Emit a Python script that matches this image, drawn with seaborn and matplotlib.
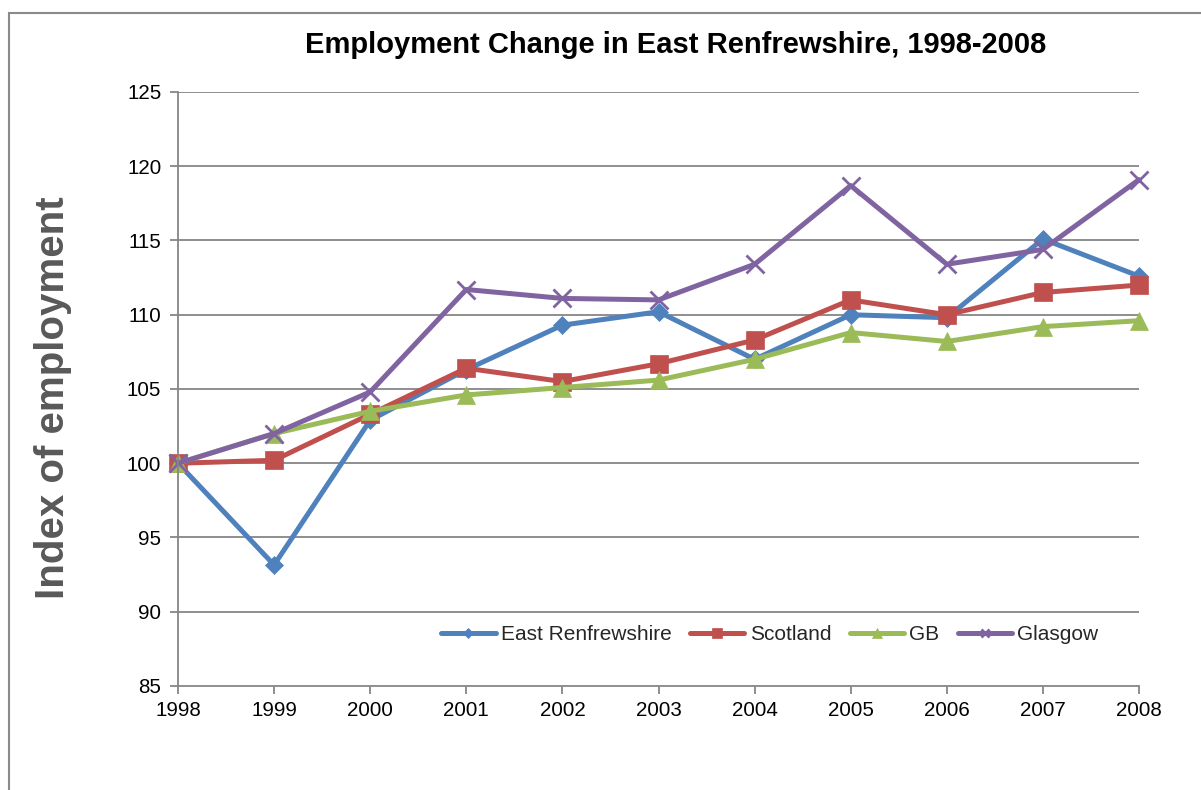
import matplotlib
matplotlib.use("Agg")
import matplotlib.pyplot as plt
import matplotlib.patches as mpatches
import seaborn as sns
import pandas as pd

years = [1998, 1999, 2000, 2001, 2002, 2003, 2004, 2005, 2006, 2007, 2008]
east_renfrewshire = [100.0, 93.15, 102.9, 106.3, 109.3, 110.2, 107.0, 110.0, 109.8, 115.1, 112.6]
scotland = [100.0, 100.2, 103.3, 106.4, 105.5, 106.7, 108.3, 111.0, 110.0, 111.5, 112.0]
gb = [100.0, 102.0, 103.5, 104.6, 105.1, 105.6, 107.0, 108.8, 108.2, 109.2, 109.6]
glasgow = [100.0, 102.0, 104.8, 111.7, 111.1, 111.0, 113.4, 118.7, 113.4, 114.4, 119.1]

series_names = ["East Renfrewshire", "Scotland", "GB", "Glasgow"]
series_values = [east_renfrewshire, scotland, gb, glasgow]
y_ticks = [85, 90, 95, 100, 105, 110, 115, 120, 125]

colors = ["#4F81BD", "#C0504D", "#9BBB59", "#8064A2"]
markers = ["D", "s", "^", "x"]
msizes = [9.5, 13.5, 13.5, 12.5]

sns.set_theme(style="white")
plt.rcParams["font.family"] = ["Liberation Sans", "DejaVu Sans"]

fig = plt.figure(figsize=(12.01, 7.90), dpi=100)
ax = fig.add_axes([178 / 1201, 1 - 686 / 790, (1139 - 178) / 1201, (686 - 92) / 790])

for name, vals, c, m, ms in zip(series_names, series_values, colors, markers, msizes):
    df = pd.DataFrame({"Year": years, "Index": vals})
    sns.lineplot(data=df, x="Year", y="Index", ax=ax, color=c, linewidth=3.6,
                 marker=m, markersize=ms, markeredgecolor=c,
                 markeredgewidth=2.0 if m == "x" else 0.5, label=name, clip_on=False)

ax.set_xlim(1998, 2008)
ax.set_ylim(85, 125)
ax.set_xticks(years)
ax.set_xticklabels([str(y) for y in years])
ax.set_yticks(y_ticks)
ax.set_yticklabels([str(t) for t in y_ticks])
ax.set_xlabel("")
ax.set_ylabel("")

grid_c = "#868686"
for t in y_ticks[1:]:
    ax.axhline(t, color=grid_c, linewidth=1.3, zorder=0.5)

for s in ["top", "right"]:
    ax.spines[s].set_visible(False)
for s in ["left", "bottom"]:
    ax.spines[s].set_color(grid_c)
    ax.spines[s].set_linewidth(1.3)

ax.tick_params(axis="both", which="major", direction="out", length=6, width=1.3,
               color=grid_c, labelsize=14.8, labelcolor="black")
ax.tick_params(axis="x", pad=5)
ax.tick_params(axis="y", pad=6)
ax.tick_params(bottom=True, left=True)

fig.text(676 / 1201, 1 - 45 / 790, "Employment Change in East Renfrewshire, 1998-2008",
         ha="center", va="center", fontsize=21, fontweight="bold", color="black")
fig.text(53 / 1201, 1 - 398 / 790, "Index of employment", rotation=90,
         ha="center", va="center", fontsize=29, fontweight="bold", color="#595959")

leg = ax.legend(loc="center", bbox_to_anchor=(770 / 1201, 1 - 635 / 790),
                bbox_transform=fig.transFigure, ncol=4, frameon=False,
                fontsize=15, handlelength=2.6, handletextpad=0.25,
                columnspacing=0.9, markerscale=0.5)

border = mpatches.Rectangle((9 / 1201, -1), 2, 1 + (1 - 13 / 790), transform=fig.transFigure,
                            fill=False, edgecolor="#8a8a8a", linewidth=1.5)
fig.patches.append(border)

fig.savefig("out.png", dpi=100)
